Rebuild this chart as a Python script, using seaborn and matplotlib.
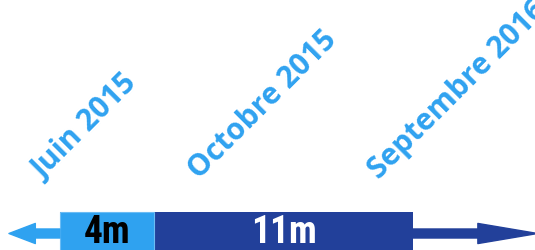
import numpy as np
import pandas as pd
import seaborn as sns
import matplotlib.pyplot as plt
from matplotlib import font_manager

# timeline data (months since Juin 2015)
dates = ["Juin 2015", "Octobre 2015", "Septembre 2016"]
months = [0, 4, 15]
phases = ["4m", "11m"]
durations = [4, 11]
light = "#2fa2f0"
dark = "#22409a"

sns.set_theme(style="white")

# pick a narrow font for the bar labels if one is installed
names = {f.name for f in font_manager.fontManager.ttflist}
narrow = next((n for n in ["Liberation Sans Narrow", "DejaVu Sans Condensed",
                           "Roboto Condensed", "Open Sans Condensed"] if n in names), None)

fig = plt.figure(figsize=(5.35, 2.51), dpi=100)
ax = fig.add_axes([0, 0, 1, 1])

# total span (dark) then the first phase (light) on top
total = pd.DataFrame({"row": ["t"], "len": [sum(durations)]})
first = pd.DataFrame({"row": ["t"], "len": [durations[0]]})
sns.barplot(data=total, x="len", y="row", orient="h", color=dark,
            saturation=1, width=0.8, ax=ax, edgecolor="none")
sns.barplot(data=first, x="len", y="row", orient="h", color=light,
            saturation=1, width=0.8, ax=ax, edgecolor="#6cbcf4", linewidth=0.8)

ax.set_xlim(-2.55, 20.19)
ax.set_ylim(-0.36, 4.66)
ax.axis("off")

# arrows on both ends
y_arrow = -0.03
ax.annotate("", xy=(months[0] - 2.17, y_arrow), xytext=(months[0], y_arrow),
            annotation_clip=False,
            arrowprops=dict(arrowstyle="simple,head_length=19,head_width=14.5,tail_width=6.5",
                            mutation_scale=1, color=light, shrinkA=0, shrinkB=0))
ax.annotate("", xy=(20.3, y_arrow), xytext=(months[2], y_arrow),
            annotation_clip=False,
            arrowprops=dict(arrowstyle="simple,head_length=43,head_width=14.5,tail_width=6.5",
                            mutation_scale=1, color=dark, shrinkA=0, shrinkB=0))

# phase labels centered in each segment
starts = np.cumsum([0] + durations[:-1])
if narrow:
    fam, size = [narrow, "DejaVu Sans"], 27
else:
    fam, size = ["Liberation Sans", "DejaVu Sans"], 22
for lbl, s, d, c in zip(phases, starts, durations, ["black", "white"]):
    ax.text(s + d / 2, 0.0, lbl, ha="center", va="center", color=c,
            fontsize=size, fontweight="bold", family=fam)

# rotated date labels
offsets = [-0.72, 1.91, -1.44]
for lbl, m, off in zip(dates, months, offsets):
    ax.text(m + off, 1.05, lbl, rotation=45, rotation_mode="anchor",
            ha="left", va="baseline", color=light, fontsize=21.5,
            fontweight="bold", family="Open Sans")

fig.savefig("out.png", dpi=100)
